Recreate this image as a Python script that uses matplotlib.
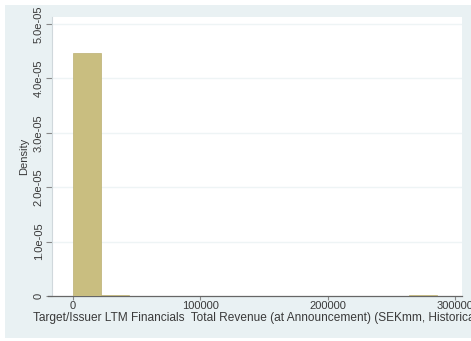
import numpy as np
import matplotlib
matplotlib.use('Agg')
import matplotlib.pyplot as plt
from matplotlib.patches import Rectangle

plt.rcParams['font.family'] = ['Liberation Sans', 'DejaVu Sans']

# histogram of revenue (density scale), 13 equal-width bins from 0
bin_start = 0
bin_width = 21960
bin_density = [4.47e-5, 2.7e-7, 0, 0, 0, 0, 0, 0, 0, 0, 0, 0, 1.8e-7]

x_ticks = [0, 100000, 200000, 300000]
x_tick_labels = ['0', '100000', '200000', '300000']
y_ticks = [0, 1e-5, 2e-5, 3e-5, 4e-5, 5e-5]
y_tick_labels = ['0', '1.0e-05', '2.0e-05', '3.0e-05', '4.0e-05', '5.0e-05']

x_title = 'Target/Issuer LTM Financials  Total Revenue (at Announcement) (SEKmm, Historical)'

W, H = 471, 341
BG = '#e9f1f3'
BAR = '#c9be80'
TXT = '#3a3a3a'

fig = plt.figure(figsize=(W / 100, H / 100), dpi=100, facecolor='white')
# graph region
fig.patches.append(Rectangle((5 / W, 3 / H), 1, 1 - 8 / H, transform=fig.transFigure,
                             facecolor=BG, edgecolor='none', zorder=-10))

ax = fig.add_axes([52 / W, 1 - 296 / H, (461.5 - 52) / W, (296 - 17) / H])
ax.set_zorder(1)
ax.set_facecolor('white')

edges = bin_start + bin_width * np.arange(len(bin_density))
ax.bar(edges, bin_density, width=bin_width, align='edge',
       color=BAR, edgecolor='#bcb072', linewidth=0.5, zorder=3)

ax.set_xlim(-16250, 304900)
ax.set_ylim(0, 5.13e-5)

ax.set_xticks(x_ticks)
ax.set_xticklabels(x_tick_labels, fontsize=8, color=TXT)
ax.set_yticks(y_ticks)
ax.set_yticklabels(y_tick_labels, fontsize=8, color=TXT, rotation=90, va='center')

ax.tick_params(axis='y', direction='out', length=4, width=0.8, color='#888888', pad=2)
ax.tick_params(axis='x', direction='out', length=3, width=0.8, color='#888888', pad=0.5)

# horizontal grid lines
for yv in y_ticks[1:]:
    ax.axhline(yv, color='#eef4f5', linewidth=1.0, zorder=1)

for side in ['top', 'right']:
    ax.spines[side].set_visible(False)
ax.spines['left'].set_color('#d0d8dc')
ax.spines['left'].set_linewidth(0.8)
ax.spines['bottom'].set_color('#666666')
ax.spines['bottom'].set_linewidth(0.9)
ax.spines['bottom'].set_bounds(-16250 - 0.01 * 321150, 304900)

ax.set_ylabel('Density', fontsize=8, color=TXT, labelpad=3)
ax.set_xlabel(x_title, fontsize=8.6, color=TXT, labelpad=0.5)

fig.savefig('out.png', dpi=100, facecolor='white')
